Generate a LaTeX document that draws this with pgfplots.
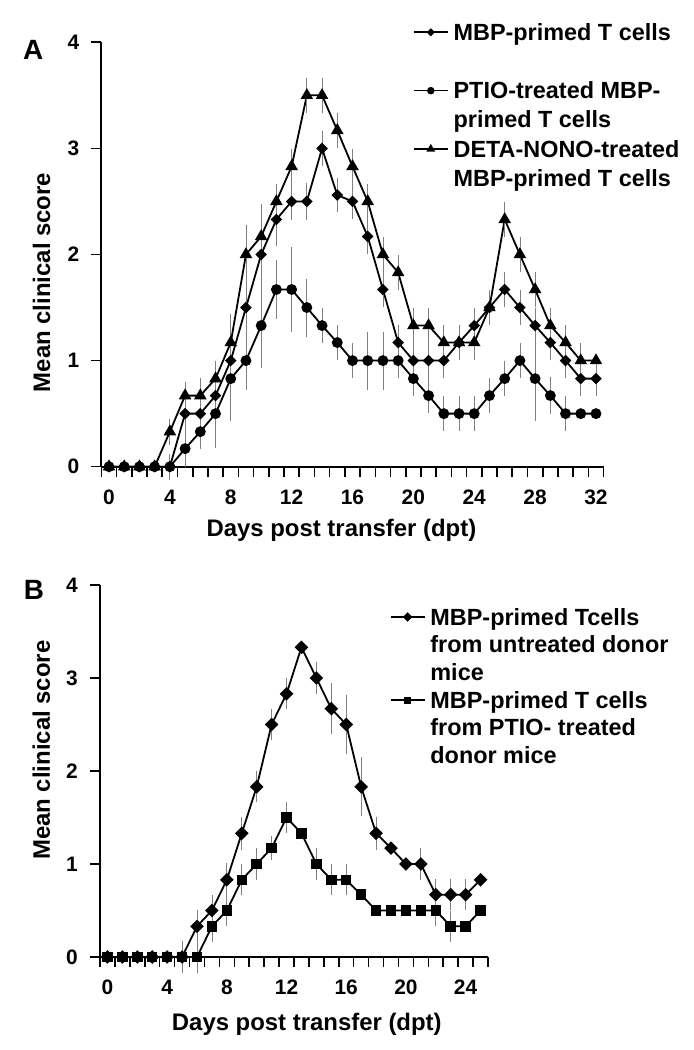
\documentclass[border=0pt]{standalone}
\usepackage{fontspec}
\setmainfont{Liberation Sans}
\usepackage{pgfplots}
\pgfplotsset{compat=1.18}
\usepackage{pgfplotstable}

% panel A: MBP-primed T cells (diamonds)
\pgfplotstableread{
d y e
0 0 0
1 0 0
2 0 0
3 0 0
4 0 0
5 0.5 0.14
6 0.5 0.14
7 0.67 0.14
8 1.0 0.17
9 1.5 0.25
10 2.0 0.25
11 2.33 0.23
12 2.5 0.15
13 2.5 0.15
14 3.0 0.14
15 2.56 0.14
16 2.5 0.14
17 2.17 0.14
18 1.67 0.14
19 1.17 0.14
20 1.0 0.14
21 1.0 0.14
22 1.0 0.14
23 1.17 0.14
24 1.33 0.14
25 1.5 0.14
26 1.67 0.14
27 1.5 0.14
28 1.33 0.14
29 1.17 0.14
30 1.0 0.14
31 0.83 0.14
32 0.83 0.14
}\mbpA

% panel A: PTIO-treated (circles)
\pgfplotstableread{
d y e
0 0 0
1 0 0
2 0 0
3 0 0
4 0 0.1
5 0.17 0.15
6 0.33 0.14
7 0.5 0.3
8 0.83 0.38
9 1.0 0.25
10 1.33 0.38
11 1.67 0.25
12 1.67 0.38
13 1.5 0.25
14 1.33 0.14
15 1.17 0.14
16 1.0 0.14
17 1.0 0.25
18 1.0 0.25
19 1.0 0.14
20 0.83 0.14
21 0.67 0.14
22 0.5 0.14
23 0.5 0.14
24 0.5 0.14
25 0.67 0.14
26 0.83 0.14
27 1.0 0.14
28 0.83 0.38
29 0.67 0.15
30 0.5 0.14
31 0.5 0
32 0.5 0
}\ptioA

% panel A: DETA-NONO-treated (triangles)
\pgfplotstableread{
d y e
0 0 0
1 0 0
2 0 0
3 0 0
4 0.33 0.1
5 0.67 0.1
6 0.67 0.14
7 0.83 0.14
8 1.17 0.25
9 2.0 0.25
10 2.17 0.28
11 2.5 0.14
12 2.83 0.14
13 3.5 0.14
14 3.5 0.14
15 3.17 0.14
16 2.83 0.14
17 2.5 0.14
18 2.0 0.14
19 1.83 0.14
20 1.33 0.14
21 1.33 0.14
22 1.17 0.14
23 1.17 0.14
24 1.17 0.14
25 1.5 0.14
26 2.33 0.14
27 2.0 0.14
28 1.67 0.14
29 1.33 0.14
30 1.17 0.14
31 1.0 0.14
32 1.0 0
}\detaA

% panel B: untreated donor mice (diamonds)
\pgfplotstableread{
d y e
0 0 0
1 0 0
2 0 0
3 0 0
4 0 0
5 0 0.15
6 0.33 0.15
7 0.5 0.14
8 0.83 0.15
9 1.33 0.15
10 1.83 0.14
11 2.5 0.14
12 2.83 0.14
13 3.33 0
14 3.0 0.14
15 2.67 0.25
16 2.5 0.29
17 1.83 0.29
18 1.33 0.15
19 1.17 0
20 1.0 0
21 1.0 0.14
22 0.67 0.14
23 0.67 0.14
24 0.67 0.14
25 0.83 0
}\untrB

% panel B: PTIO-treated donor mice (squares)
\pgfplotstableread{
d y e
0 0 0
1 0 0
2 0 0
3 0 0
4 0 0
5 0 0
6 0 0.15
7 0.33 0.14
8 0.5 0.14
9 0.83 0.14
10 1.0 0.14
11 1.17 0.1
12 1.5 0.14
13 1.33 0
14 1.0 0.14
15 0.83 0.14
16 0.83 0.14
17 0.67 0
18 0.5 0
19 0.5 0
20 0.5 0
21 0.5 0
22 0.5 0.14
23 0.33 0.14
24 0.33 0
25 0.5 0
}\ptioB

\pgfplotsset{
  panel/.style={
    scale only axis, clip=false,
    axis x line=bottom, axis y line=left,
    axis line style={-, line width=1.8bp},
    tick style={black, line width=1.6bp},
    tick align=outside, major tick length=10bp,
    ymin=0, ymax=4, ytick={0,1,2,3,4},
    xticklabels={},
    extra x tick style={major tick length=0pt, tick label style={yshift=-23bp}},
    tick label style={font=\fontsize{21}{21}\selectfont\bfseries, inner sep=0pt},
    /pgf/number format/assume math mode=true,
    yticklabel style={xshift=-12bp},
    label style={font=\fontsize{24}{24}\selectfont\bfseries},
    ylabel={Mean clinical score},
    xlabel={Days post transfer (dpt)},
    legend style={draw=none, fill=none, inner sep=0pt, outer sep=0pt,
      anchor=north west, column sep=5bp, cells={anchor=base west},
      nodes={inner sep=0pt, text height=17bp, text depth=5bp},
      font=\fontsize{23.5}{26}\selectfont\bfseries},
    legend image code/.code={
      \draw[mark repeat=2, mark phase=2, line width=1.6bp, ##1,
        every mark/.append style={scale=0.65}]
        plot coordinates {(0bp,8bp) (17bp,8bp) (34bp,8bp)};},
    error bars/y dir=both, error bars/y explicit,
    error bars/error bar style={gray, line width=0.8bp},
    error bars/error mark options={gray, line width=0.8bp, mark size=2.5bp},
  },
  ser/.style={black, line width=1.8bp},
}

\begin{document}
\begin{tikzpicture}
\path[use as bounding box] (0bp,0bp) rectangle (694bp,1050bp);

\begin{axis}[panel,
  at={(101.4bp,583.3bp)}, anchor=south west,
  width=502.2bp, height=424.4bp,
  xmin=-0.5, xmax=32.5,
  xtick={-0.5,0.5,...,32.5},
  extra x ticks={0,4,...,32},
  extra x tick labels={0,4,8,12,16,20,24,28,32},
  xlabel style={at={(axis description cs:0.478,0)}, anchor=base, yshift=-70bp},
  ylabel style={at={(axis description cs:-0.1023,0.434)}, anchor=base},
  legend style={at={(axis description cs:0.6205,1.0448)}, row sep=7.2bp},
]
\addplot[ser, mark=square*, mark size=3.2bp, mark options={rotate=45, fill=black, solid}]
  table[x=d, y=y, y error=e] {\mbpA};
\addlegendentry{MBP-primed T cells}
\addlegendimage{empty legend}
\addlegendentry{}
\addplot[ser, mark=*, mark size=4.5bp, mark options={fill=black, solid}]
  table[x=d, y=y, y error=e] {\ptioA};
\addlegendentry{PTIO-treated MBP-}
\addlegendimage{empty legend}
\addlegendentry{primed T cells}
\addplot[ser, mark=triangle*, mark size=5.5bp, mark options={fill=black, solid}]
  table[x=d, y=y, y error=e] {\detaA};
\addlegendentry{DETA-NONO-treated}
\addlegendimage{empty legend}
\addlegendentry{MBP-primed T cells}
\end{axis}

\begin{axis}[panel,
  at={(100bp,93bp)}, anchor=south west,
  width=388bp, height=372bp,
  xmin=-0.5, xmax=25.5,
  xtick={-0.5,0.5,...,25.5},
  extra x ticks={0,4,...,24},
  extra x tick labels={0,4,8,12,16,20,24},
  xlabel style={at={(axis description cs:0.533,0)}, anchor=base, yshift=-73bp},
  ylabel style={at={(axis description cs:-0.1289,0.556)}, anchor=base},
  legend style={at={(axis description cs:0.747,0.938)}, row sep=5.7bp},
]
\addplot[ser, mark=square*, mark size=3.9bp, mark options={rotate=45, fill=black, solid}]
  table[x=d, y=y, y error=e] {\untrB};
\addlegendentry{MBP-primed Tcells}
\addlegendimage{empty legend}
\addlegendentry{from untreated donor}
\addlegendimage{empty legend}
\addlegendentry{mice}
\addplot[ser, mark=square*, mark size=4.3bp, mark options={fill=black, solid}]
  table[x=d, y=y, y error=e] {\ptioB};
\addlegendentry{MBP-primed T cells}
\addlegendimage{empty legend}
\addlegendentry{from PTIO- treated}
\addlegendimage{empty legend}
\addlegendentry{donor mice}
\end{axis}

\node[font=\fontsize{28}{28}\selectfont\bfseries] at (33.3bp,1000bp) {A};
\node[font=\fontsize{28}{28}\selectfont\bfseries] at (34bp,460.5bp) {B};
\end{tikzpicture}
\end{document}
